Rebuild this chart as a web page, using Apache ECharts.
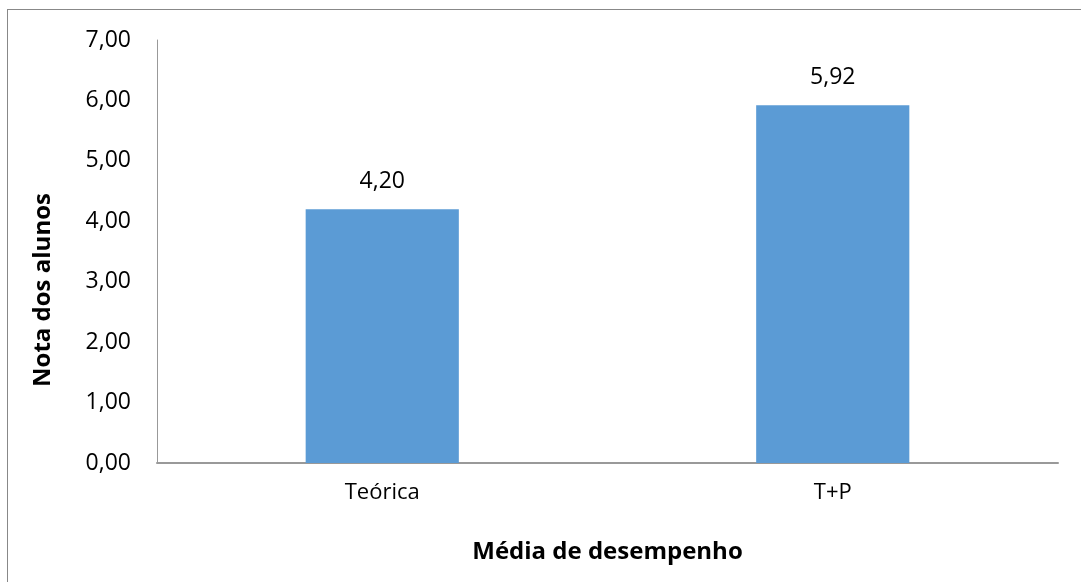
<!DOCTYPE html>
<html>
<head>
<meta charset="utf-8">
<script src="https://cdn.jsdelivr.net/npm/echarts@6/dist/echarts.min.js"></script>
<style>
  html, body { margin: 0; padding: 0; background: #fff; }
  #frame { position: absolute; left: 7px; top: 9px; width: 1074px; height: 573px;
           border-left: 1px solid #888; border-top: 1px solid #888; }
  #chart { position: absolute; left: 0; top: 0; width: 1081px; height: 582px; }
</style>
</head>
<body>
<div id="frame"></div>
<div id="chart"></div>
<script>
// dados do gráfico
var categorias = ['Teórica', 'T+P'];
var notas = [4.20, 5.92];
var ticksY = [0, 1, 2, 3, 4, 5, 6, 7];
var tituloX = 'Média de desempenho';
var tituloY = 'Nota dos alunos';

var fonte = 'Open Sans';
var chart = echarts.init(document.getElementById('chart'));

function virgula(v) {
  return v.toFixed(2).replace('.', ',');
}

var option = {
  animation: false,
  grid: { left: 157, right: 23, top: 40, bottom: 119, containLabel: false },
  // titulo do eixo y fica um pouco abaixo do meio, como no original
  graphic: [{
    type: 'text',
    x: 43,
    y: 290,
    rotation: Math.PI / 2,
    style: {
      text: tituloY,
      font: 'bold 24px "Open Sans"',
      fill: '#000',
      align: 'center',
      verticalAlign: 'middle',
      textAlign: 'center',
      textVerticalAlign: 'middle'
    }
  }],
  xAxis: {
    type: 'category',
    data: categorias,
    name: tituloX,
    nameLocation: 'middle',
    nameGap: 77,
    nameTextStyle: { fontFamily: fonte, fontSize: 24, fontWeight: 'bold', color: '#000' },
    axisLine: { lineStyle: { color: '#999', width: 2 } },
    axisTick: { show: false },
    axisLabel: { fontFamily: fonte, fontSize: 22, color: '#000', margin: 19 }
  },
  yAxis: {
    type: 'value',
    min: ticksY[0],
    max: ticksY[ticksY.length - 1],
    interval: 1,
    axisLine: { show: true, lineStyle: { color: '#999', width: 1 } },
    axisTick: { show: false },
    splitLine: { show: false },
    axisLabel: {
      fontFamily: fonte, fontSize: 23, color: '#000', margin: 26,
      formatter: function (v) { return virgula(v); }
    }
  },
  series: [{
    type: 'bar',
    data: notas,
    barWidth: '34%',
    itemStyle: { color: '#5B9BD5' },
    label: {
      show: true,
      position: 'top',
      distance: 16,
      fontFamily: fonte, fontSize: 23, color: '#000',
      formatter: function (p) { return virgula(p.value); }
    }
  }]
};

chart.setOption(option);
</script>
</body>
</html>
